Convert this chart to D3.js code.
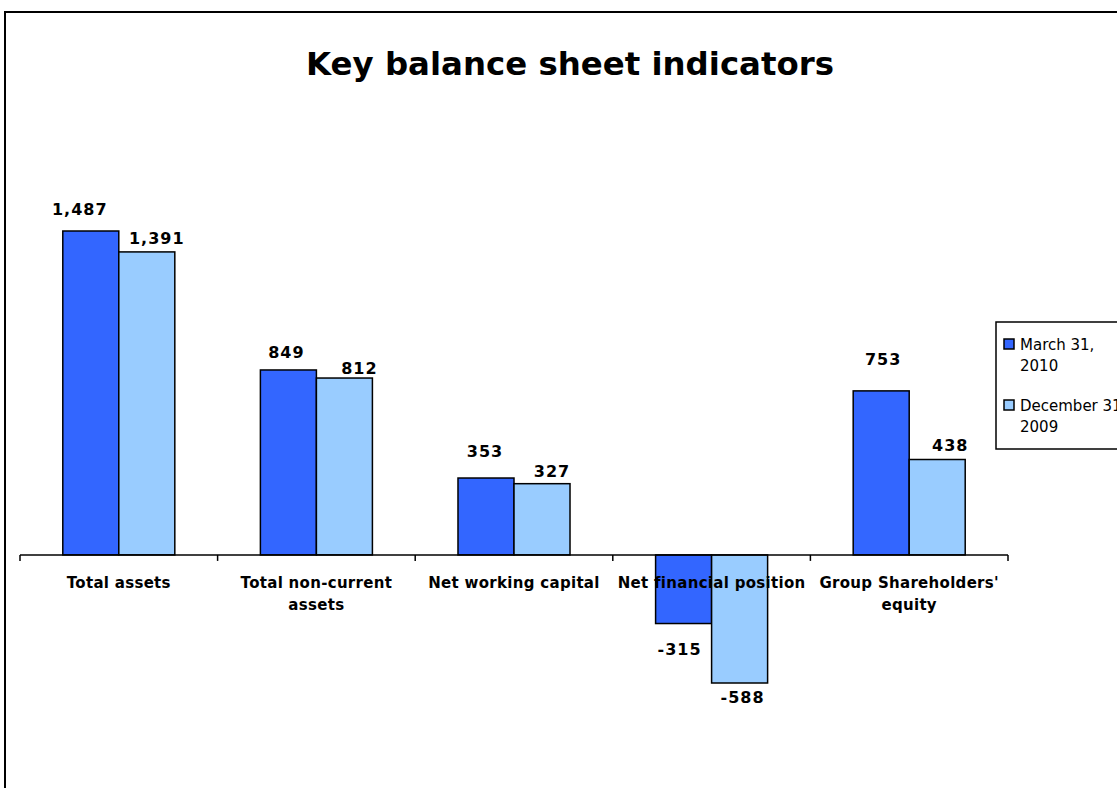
<!DOCTYPE html>
<html><head><meta charset="utf-8">
<script src="https://cdn.jsdelivr.net/npm/d3@7/dist/d3.min.js"></script>
<style>body{margin:0;background:#fff}svg{display:block}</style>
</head><body>
<svg id="c" width="1117" height="788"></svg>
<script>
const categories = [["Total assets"], ["Total non-current", "assets"], ["Net working capital"], ["Net financial position"], ["Group Shareholders'", "equity"]];
const seriesNames = [["March 31,", "2010"], ["December 31,", "2009"]];
const march2010 = [1487, 849, 353, -315, 753];
const dec2009 = [1391, 812, 327, -588, 438];
const valueLabels1 = ["1,487", "849", "353", "-315", "753"];
const valueLabels2 = ["1,391", "812", "327", "-588", "438"];
const colors = ["#3366FF", "#99CCFF"];

const svg = d3.select("#c");
const font = "Tahoma, 'DejaVu Sans', Verdana, sans-serif";

svg.append("rect").attr("x", 5).attr("y", 12).attr("width", 1200).attr("height", 900)
  .attr("fill", "#fff").attr("stroke", "#000").attr("stroke-width", 2);

svg.append("text").attr("x", 570).attr("y", 75).attr("text-anchor", "middle")
  .attr("font-family", font).attr("font-weight", "bold").attr("font-size", 32.4)
  .text("Key balance sheet indicators");

const x0 = d3.scaleBand().domain(d3.range(categories.length)).range([20, 1008]).paddingInner(0).paddingOuter(0);
const x1 = d3.scaleBand().domain([0, 1]).range([0, x0.bandwidth()]).paddingInner(0).paddingOuter(0.764);
const y = d3.scaleLinear().domain([-588, 1487]).range([683, 231]);

const series = [march2010, dec2009];
const labels = [valueLabels1, valueLabels2];

series.forEach((vals, s) => {
  svg.append("g").selectAll("rect").data(vals).join("rect")
    .attr("x", (d, i) => x0(i) + x1(s))
    .attr("y", d => y(Math.max(0, d)))
    .attr("width", x1.bandwidth())
    .attr("height", d => Math.abs(y(d) - y(0)))
    .attr("fill", colors[s]).attr("stroke", "#000").attr("stroke-width", 1.5);
});

// axis
const axisG = svg.append("g").attr("transform", `translate(0,${y(0)})`);
axisG.append("line").attr("x1", x0.range()[0]).attr("x2", x0.range()[1]).attr("stroke", "#000").attr("stroke-width", 1.5);
const tickPos = d3.range(categories.length + 1).map(i => x0.range()[0] + i * x0.step());
axisG.selectAll("line.t").data(tickPos).join("line").attr("class", "t")
  .attr("x1", d => d).attr("x2", d => d).attr("y1", 0).attr("y2", 6)
  .attr("stroke", "#000").attr("stroke-width", 1.5);

// category labels
categories.forEach((lines, i) => {
  const t = svg.append("text").attr("x", x0(i) + x0.bandwidth() / 2).attr("y", y(0) + 33)
    .attr("text-anchor", "middle").attr("font-family", font).attr("font-weight", "bold").attr("font-size", 15)
    .attr("letter-spacing", 0.3);
  lines.forEach((l, k) => t.append("tspan").attr("x", x0(i) + x0.bandwidth() / 2).attr("dy", k ? 22 : 0).text(l));
});

// value labels (label placement offsets, as in the original)
const dxs = [[-11, -2, -1, -4, 2], [10, 15, 10, 3, 13]];
const gaps = [[16, 12, 21, 31, 26], [8, 4, 7, 20, 9]];
series.forEach((vals, s) => {
  svg.append("g").selectAll("text").data(vals).join("text")
    .attr("x", (d, i) => x0(i) + x1(s) + x1.bandwidth() / 2 + dxs[s][i])
    .attr("y", (d, i) => d >= 0 ? y(d) - gaps[s][i] : y(d) + gaps[s][i])
    .attr("text-anchor", "middle").attr("font-family", font).attr("font-weight", "bold").attr("font-size", 16)
    .attr("letter-spacing", 1)
    .text((d, i) => labels[s][i]);
});

// legend
const lg = svg.append("g");
lg.append("rect").attr("x", 996).attr("y", 322).attr("width", 200).attr("height", 127)
  .attr("fill", "#fff").attr("stroke", "#000").attr("stroke-width", 1.5);
seriesNames.forEach((lines, s) => {
  const yy = 339 + s * 61;
  lg.append("rect").attr("x", 1004).attr("y", yy).attr("width", 10).attr("height", 10)
    .attr("fill", colors[s]).attr("stroke", "#000").attr("stroke-width", 1.5);
  const t = lg.append("text").attr("x", 1020).attr("y", yy + 11).attr("font-family", font).attr("font-size", 15);
  lines.forEach((l, k) => t.append("tspan").attr("x", 1020).attr("dy", k ? 21 : 0).text(l));
});
</script>
</body></html>
